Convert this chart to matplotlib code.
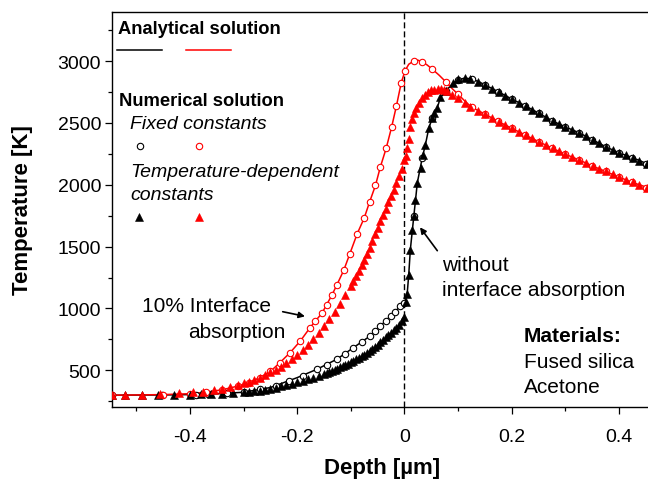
import matplotlib
matplotlib.use("Agg")
import matplotlib.pyplot as plt
from matplotlib.ticker import MultipleLocator

plt.rcParams['font.family'] = ['Liberation Sans', 'DejaVu Sans']

# analytical solution, no interface absorption (black)
black_line_depth = [-0.545, -0.5, -0.45, -0.4, -0.35, -0.3, -0.25, -0.2, -0.163, -0.126,
                    -0.095, -0.064, -0.045, -0.026, -0.0075, 0.0, 0.005, 0.008, 0.011, 0.0174,
                    0.024, 0.033, 0.039, 0.0455, 0.052, 0.061, 0.067, 0.077, 0.09, 0.1,
                    0.112, 0.123, 0.138, 0.151, 0.176, 0.2, 0.226, 0.25, 0.276, 0.3,
                    0.326, 0.351, 0.376, 0.4, 0.426, 0.455]
black_line_T = [298, 299, 300, 303, 309, 322, 360, 440, 508, 589,
                683, 777, 857, 938, 1018, 1045, 1113, 1274, 1476, 1744,
                2016, 2215, 2323, 2460, 2540, 2620, 2705, 2758, 2820, 2850,
                2862, 2858, 2835, 2806, 2750, 2694, 2637, 2580, 2516, 2468,
                2420, 2363, 2306, 2258, 2218, 2165]

# analytical solution, 10% interface absorption (red)
red_line_depth = [-0.545, -0.5, -0.45, -0.4, -0.37, -0.34, -0.31, -0.29, -0.27, -0.25,
                  -0.232, -0.213, -0.194, -0.176, -0.166, -0.154, -0.145, -0.135, -0.126, -0.113,
                  -0.102, -0.088, -0.075, -0.065, -0.054, -0.045, -0.034, -0.024, -0.015, -0.006,
                  0.001, 0.008, 0.017, 0.025, 0.033, 0.042, 0.052, 0.065, 0.077, 0.088,
                  0.1, 0.112, 0.125, 0.15, 0.175, 0.2, 0.225, 0.25, 0.275, 0.3,
                  0.325, 0.35, 0.375, 0.4, 0.425, 0.455]
red_line_T = [298, 300, 303, 310, 322, 342, 372, 400, 440, 490,
              562, 643, 737, 844, 898, 960, 1030, 1110, 1190, 1310,
              1440, 1605, 1731, 1861, 1995, 2143, 2296, 2465, 2637, 2825,
              2921, 2975, 3000, 3008, 2995, 2970, 2935, 2885, 2833, 2782,
              2732, 2680, 2628, 2572, 2512, 2457, 2403, 2349, 2297, 2247,
              2202, 2153, 2108, 2062, 2019, 1975]

# numerical, fixed constants (open circles)
black_fix_depth = [-0.545, -0.452, -0.388, -0.366, -0.33, -0.3, -0.27, -0.24, -0.215, -0.19,
                   -0.163, -0.145, -0.126, -0.11, -0.095, -0.08, -0.064, -0.055, -0.045, -0.035,
                   -0.026, -0.017, -0.0075, 0.0, 0.0174, 0.033, 0.052, 0.077, 0.1, 0.125,
                   0.15, 0.175, 0.2, 0.225, 0.25, 0.275, 0.3, 0.325, 0.35, 0.375,
                   0.4, 0.425, 0.45]
black_fix_T = [298, 300, 303, 306, 313, 325, 345, 375, 410, 455,
               508, 545, 589, 635, 683, 730, 777, 815, 857, 898,
               938, 975, 1018, 1045, 1744, 2215, 2538, 2758, 2850, 2858,
               2808, 2752, 2694, 2638, 2580, 2518, 2468, 2420, 2364, 2308,
               2258, 2220, 2172]

red_fix_depth = [-0.545, -0.45, -0.4, -0.37, -0.34, -0.31, -0.29, -0.27, -0.25, -0.232,
                 -0.213, -0.194, -0.176, -0.166, -0.154, -0.145, -0.135, -0.126, -0.113, -0.102,
                 -0.088, -0.075, -0.065, -0.054, -0.045, -0.034, -0.024, -0.015, -0.006, 0.001,
                 0.017, 0.033, 0.052, 0.077, 0.1, 0.125, 0.15, 0.175, 0.2, 0.225,
                 0.25, 0.275, 0.3, 0.325, 0.35, 0.375, 0.4, 0.425, 0.45]
red_fix_T = [298, 303, 310, 322, 342, 372, 400, 440, 490, 562,
             643, 737, 844, 898, 960, 1030, 1110, 1190, 1310, 1440,
             1605, 1731, 1861, 1995, 2143, 2296, 2465, 2637, 2825, 2921,
             3000, 2995, 2935, 2833, 2732, 2628, 2572, 2512, 2457, 2403,
             2349, 2297, 2247, 2202, 2153, 2108, 2062, 2019, 1978]

# numerical, temperature-dependent constants (filled triangles)
black_td_depth = [-0.545, -0.52, -0.49, -0.46, -0.43, -0.4, -0.38, -0.36, -0.34, -0.32,
                  -0.3, -0.29, -0.28, -0.27, -0.26, -0.25, -0.24, -0.23, -0.22, -0.21,
                  -0.2, -0.19, -0.18, -0.17, -0.16, -0.15, -0.145, -0.14, -0.135, -0.13,
                  -0.125, -0.12, -0.115, -0.11, -0.105, -0.1, -0.095, -0.09, -0.085, -0.08,
                  -0.075, -0.07, -0.065, -0.06, -0.055, -0.05, -0.045, -0.04, -0.035, -0.03,
                  -0.025, -0.02, -0.015, -0.01, -0.005, 0.0,
                  0.002, 0.005, 0.008, 0.011, 0.014, 0.0174, 0.02, 0.024, 0.03, 0.035,
                  0.039, 0.0455, 0.052, 0.056, 0.061, 0.067, 0.077, 0.09, 0.1, 0.112,
                  0.123, 0.138, 0.151, 0.163, 0.176, 0.188, 0.2, 0.213, 0.226, 0.238,
                  0.25, 0.263, 0.276, 0.288, 0.3, 0.313, 0.326, 0.338, 0.351, 0.363,
                  0.376, 0.388, 0.4, 0.413, 0.426, 0.438, 0.452]
black_td_T = [298, 299, 299, 300, 301, 303, 305, 308, 311, 315,
              321, 325, 330, 336, 343, 351, 360, 369, 379, 390,
              401, 413, 426, 440, 455, 470, 478, 487, 496, 505,
              514, 523, 533, 543, 554, 565, 576, 588, 600, 613,
              627, 641, 656, 672, 689, 706, 725, 745, 765, 785,
              803, 822, 843, 868, 897, 930,
              1050, 1113, 1274, 1476, 1637, 1744, 1879, 2016, 2137, 2240,
              2323, 2460, 2540, 2580, 2620, 2712, 2758, 2820, 2852, 2865,
              2858, 2835, 2806, 2778, 2750, 2722, 2694, 2665, 2637, 2608,
              2580, 2548, 2516, 2492, 2468, 2444, 2420, 2391, 2363, 2334,
              2306, 2282, 2258, 2238, 2218, 2194, 2170]

red_td_depth = [-0.545, -0.52, -0.49, -0.455, -0.42, -0.395, -0.375, -0.355, -0.34, -0.325,
                -0.31, -0.3, -0.29, -0.28, -0.27, -0.26, -0.25, -0.24, -0.23, -0.22,
                -0.21, -0.2, -0.19, -0.18, -0.17, -0.16, -0.15, -0.14, -0.13, -0.12,
                -0.11, -0.1, -0.095, -0.09, -0.085, -0.08, -0.075, -0.07, -0.065, -0.06,
                -0.055, -0.05, -0.045, -0.04, -0.035, -0.03, -0.025, -0.02, -0.015, -0.01,
                -0.005, 0.0,
                0.002, 0.005, 0.008, 0.011, 0.014, 0.017, 0.021, 0.027, 0.033, 0.038,
                0.044, 0.05, 0.056, 0.062, 0.068, 0.074, 0.08, 0.089, 0.1, 0.112,
                0.123, 0.138, 0.151, 0.163, 0.176, 0.188, 0.2, 0.213, 0.226, 0.238,
                0.25, 0.263, 0.276, 0.288, 0.3, 0.313, 0.326, 0.338, 0.351, 0.363,
                0.376, 0.388, 0.4, 0.413, 0.426, 0.438, 0.452]
red_td_T = [300, 301, 303, 306, 315, 320, 326, 340, 352, 365,
            382, 393, 406, 420, 437, 460, 482, 502, 527, 555,
            590, 625, 662, 705, 755, 805, 860, 915, 970, 1035,
            1105, 1180, 1220, 1262, 1305, 1348, 1392, 1440, 1490, 1545,
            1598, 1650, 1705, 1758, 1808, 1858, 1908, 1960, 2015, 2070,
            2130, 2200,
            2230, 2300, 2370, 2470, 2530, 2578, 2620, 2660, 2700, 2730,
            2752, 2765, 2770, 2772, 2772, 2768, 2757, 2726, 2699, 2665,
            2631, 2600, 2572, 2540, 2510, 2484, 2457, 2430, 2403, 2376,
            2349, 2322, 2296, 2272, 2247, 2225, 2202, 2178, 2153, 2130,
            2108, 2085, 2062, 2040, 2019, 1998, 1978]

RED = '#ff0000'
CIRC = dict(marker='o', ms=4.6, mfc='white', mew=0.8)
TRI = dict(marker='^', ms=5.6, mew=0.4)

fig = plt.figure(figsize=(6.48, 4.81), dpi=100)
ax = fig.add_axes([0.1733, 0.1511, 0.8267, 0.8225])

ax.axvline(0, color='k', lw=1.0, ls=(0, (4.3, 2.2)), zorder=1)

ax.plot(black_line_depth, black_line_T, color='k', lw=1.1, zorder=2)
ax.plot(red_line_depth, red_line_T, color=RED, lw=1.1, zorder=2)

ax.plot(black_fix_depth, black_fix_T, ls='none', mec='k', zorder=3, **CIRC)
ax.plot(red_fix_depth, red_fix_T, ls='none', mec=RED, zorder=3, **CIRC)
ax.plot(black_td_depth, black_td_T, ls='none', color='k', zorder=4, **TRI)
ax.plot(red_td_depth, red_td_T, ls='none', color=RED, zorder=4, **TRI)

ax.set_xlim(-0.5446, 0.454)
ax.set_ylim(200, 3400)
ax.xaxis.set_minor_locator(MultipleLocator(0.1))
ax.yaxis.set_minor_locator(MultipleLocator(250))
ax.set_xticks([-0.4, -0.2, 0, 0.2, 0.4])
ax.set_xticklabels(['-0.4', '-0.2', '0', '0.2', '0.4'])
ax.set_yticks([500, 1000, 1500, 2000, 2500, 3000])
ax.tick_params(which='both', direction='out', width=0.9, labelsize=14)
ax.tick_params(which='major', length=5)
ax.tick_params(which='minor', length=3)
ax.tick_params(axis='x', which='major', pad=10)
ax.tick_params(axis='y', which='major', pad=3)
ax.spines['right'].set_visible(False)
for s in ['left', 'bottom', 'top']:
    ax.spines[s].set_linewidth(1.0)

ax.set_xlabel('Depth [µm]', fontsize=16, fontweight='bold')
ax.set_ylabel('Temperature [K]', fontsize=16, fontweight='bold')
ax.xaxis.set_label_coords(0.503, -0.125)
ax.yaxis.set_label_coords(-0.148, 0.5)

# legend block drawn as text and glyphs
T = ax.transAxes
ax.text(0.0106, 0.9474, 'Analytical solution', transform=T, fontsize=13.2, fontweight='bold')
ax.plot([0.0093, 0.0922], [0.9032, 0.9032], color='k', lw=1.1, transform=T, clip_on=False)
ax.plot([0.1376, 0.2210], [0.9032, 0.9032], color=RED, lw=1.1, transform=T, clip_on=False)
ax.text(0.0125, 0.7642, 'Numerical solution', transform=T, fontsize=13.2, fontweight='bold')
ax.text(0.033, 0.7060, 'Fixed constants', transform=T, fontsize=14, style='italic')
ax.plot([0.0517], [0.6613], mec='k', transform=T, **CIRC)
ax.plot([0.1618], [0.6613], mec=RED, transform=T, **CIRC)
ax.text(0.0343, 0.5854, 'Temperature-dependent', transform=T, fontsize=14, style='italic')
ax.text(0.0343, 0.5263, 'constants', transform=T, fontsize=14, style='italic')
ax.plot([0.0504], [0.4803], color='k', transform=T, **TRI)
ax.plot([0.1618], [0.4803], color=RED, transform=T, **TRI)

ax.text(0.0549, 0.2434, '10% Interface', transform=T, fontsize=15)
ax.text(0.1413, 0.1769, 'absorption', transform=T, fontsize=15)
ax.annotate('', xy=(0.3597, 0.2300), xytext=(0.3181, 0.2417), xycoords=T, textcoords=T,
            arrowprops=dict(arrowstyle='-|>', color='k', lw=1.2, mutation_scale=9,
                            shrinkA=0, shrinkB=0))

ax.text(0.6149, 0.3478, 'without', transform=T, fontsize=15)
ax.text(0.6149, 0.2839, 'interface absorption', transform=T, fontsize=15)
ax.annotate('', xy=(0.5744, 0.4550), xytext=(0.6067, 0.3959), xycoords=T, textcoords=T,
            arrowprops=dict(arrowstyle='-|>', color='k', lw=1.2, mutation_scale=9,
                            shrinkA=0, shrinkB=0))

ax.text(0.7685, 0.1684, 'Materials:', transform=T, fontsize=15, fontweight='bold')
ax.text(0.7685, 0.1011, 'Fused silica', transform=T, fontsize=15)
ax.text(0.7685, 0.0379, 'Acetone', transform=T, fontsize=15)

fig.savefig('out.png', dpi=100)
